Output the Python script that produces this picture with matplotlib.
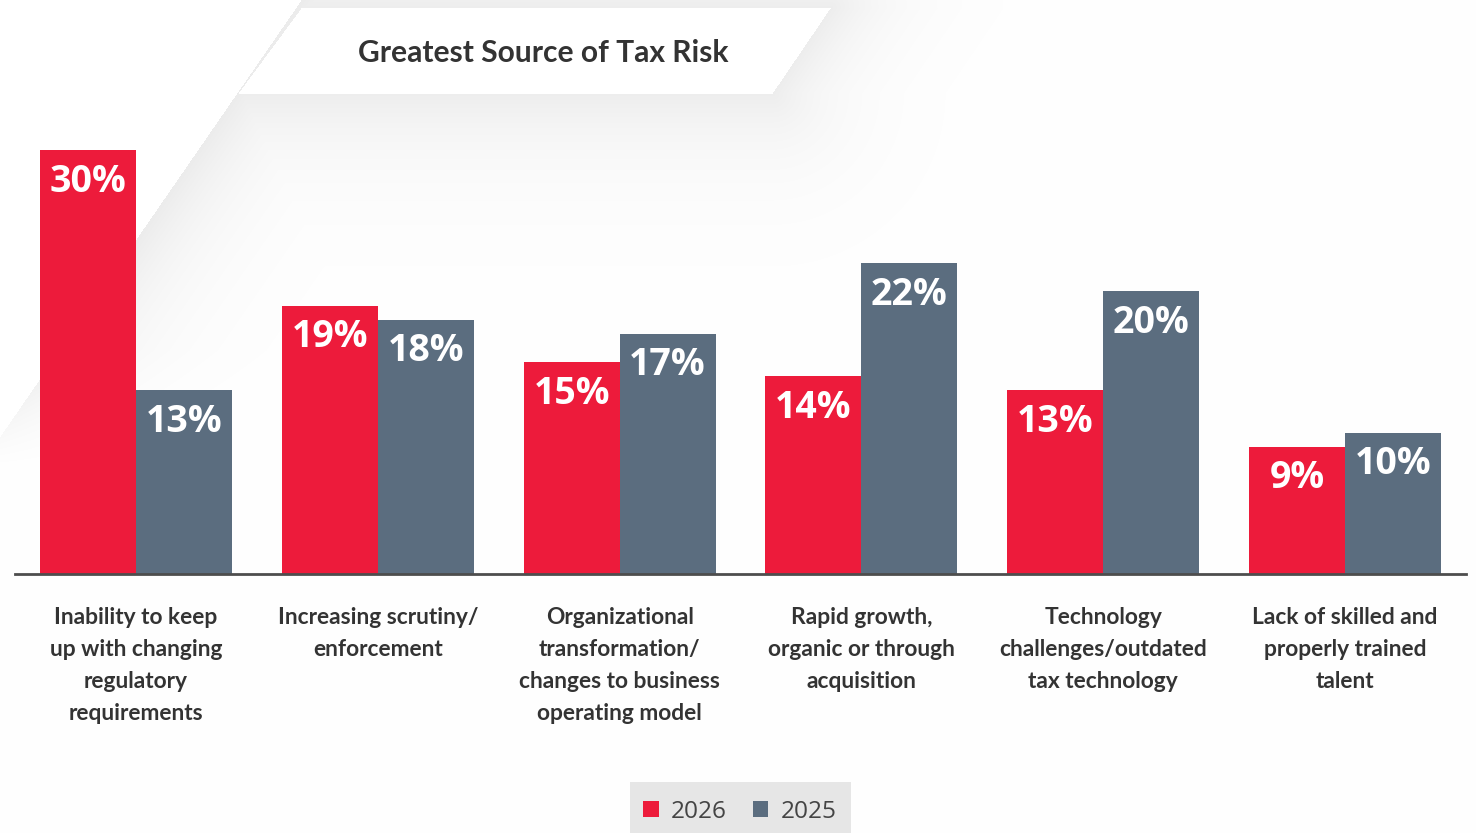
import numpy as np
import matplotlib
matplotlib.use("Agg")
import matplotlib.pyplot as plt
from matplotlib.patches import Rectangle

# ---- data ----
categories = [
    "Inability to keep\nup with changing\nregulatory\nrequirements",
    "Increasing scrutiny/\nenforcement",
    "Organizational\ntransformation/\nchanges to business\noperating model",
    "Rapid growth,\norganic or through\nacquisition",
    "Technology\nchallenges/outdated\ntax technology",
    "Lack of skilled and\nproperly trained\ntalent",
]
values_2026 = [30, 19, 15, 14, 13, 9]
values_2025 = [13, 18, 17, 22, 20, 10]
series_labels = ["2026", "2025"]
title = "Greatest Source of Tax Risk"

RED = "#ED1B3B"
SLATE = "#5B6D7F"
TEXT = "#333333"

W, H = 1476, 833
fig = plt.figure(figsize=(W / 100, H / 100), dpi=100)
fig.patch.set_facecolor("white")

# ---- decorative background: diagonal grey band with soft shadow ----
bg = fig.add_axes([0, 0, 1, 1], zorder=-5)
yy, xx = np.mgrid[0:H, 0:W].astype(float)
edge_x = 301 - 0.69 * yy
right_of_edge = xx >= edge_x

d_edge = np.clip(xx - edge_x, 0, None)
band = 0.075 * np.exp(-d_edge / 70.0) * np.clip((470 - yy) / 120.0, 0, 1)

# title box (parallelogram)
box_top, box_bot = 8.0, 93.0
def box_left(y):
    return 301 - 0.74 * (y - box_top)
def box_right(y):
    return 830 - 0.68 * (y - box_top)

yc = np.clip(yy, box_top, box_bot)
dx = np.maximum(box_left(yc) - xx, xx - box_right(yc))
dy = np.maximum(box_top - yy, yy - box_bot)
dist = np.hypot(np.clip(dx, 0, None), np.clip(dy, 0, None))
inside_box = (dx <= 0) & (dy <= 0)
shadow = 0.07 * np.exp(-dist / 60.0)

dark = np.where(right_of_edge, np.maximum(band, shadow), 0.0)
dark = np.where(inside_box, 0.0, dark)
img = 1.0 - dark
bg.imshow(np.dstack([img, img, img]), extent=(0, W, H, 0), aspect="auto",
          interpolation="bilinear")
bg.set_xlim(0, W)
bg.set_ylim(H, 0)
bg.axis("off")

fig.text(543 / W, 1 - 53 / H, title, ha="center", va="center",
         fontsize=21.6, fontweight="bold", family="Lato", color=TEXT)

# ---- bars ----
px_per_unit = 14.13
base_y = 574
ymax = 32
ax = fig.add_axes([15 / W, (H - base_y) / H, (1466 - 15) / W,
                   ymax * px_per_unit / H])
ax.set_facecolor("none")
x = np.arange(len(categories))
bw = 96 / 242
b1 = ax.bar(x - bw / 2, values_2026, bw, color=RED, label=series_labels[0])
b2 = ax.bar(x + bw / 2, values_2025, bw, color=SLATE, label=series_labels[1])

for bars, vals in ((b1, values_2026), (b2, values_2025)):
    for rect, v in zip(bars, vals):
        ax.annotate(f"{v}%", (rect.get_x() + rect.get_width() / 2, v),
                    xytext=(0, -30), textcoords="offset points",
                    ha="center", va="baseline", color="white",
                    fontsize=27, fontweight="bold", family="Open Sans")

ax.set_xlim(-0.5, 5.5)
ax.set_ylim(0, ymax)
for s in ("top", "right", "left"):
    ax.spines[s].set_visible(False)
ax.spines["bottom"].set_color("#4d4d4d")
ax.spines["bottom"].set_linewidth(2)
ax.set_yticks([])
ax.set_xticks([])

for i, lab in enumerate(categories):
    ax.annotate(lab, (i, 0), xytext=(0, -23.5), textcoords="offset points",
                ha="center", va="top", fontsize=16.4, fontweight="bold",
                family="Lato", color=TEXT, linespacing=1.645)

# ---- legend ----
fig.add_artist(Rectangle((630 / W, 0), (851 - 630) / W, (H - 782) / H,
                         transform=fig.transFigure, facecolor="#e6e6e6",
                         edgecolor="none", zorder=1))
leg = fig.legend(handles=[b1, b2], loc="center",
                 bbox_to_anchor=(740 / W, 1 - 812 / H), ncol=2, frameon=False,
                 prop={"family": "Open Sans", "size": 17.6},
                 handlelength=0.64, handleheight=0.64, handletextpad=0.5,
                 columnspacing=1.05, borderpad=0, borderaxespad=0)
leg.set_zorder(2)
for t in leg.get_texts():
    t.set_color("#444444")

fig.savefig("out.png", dpi=100, facecolor="white")
